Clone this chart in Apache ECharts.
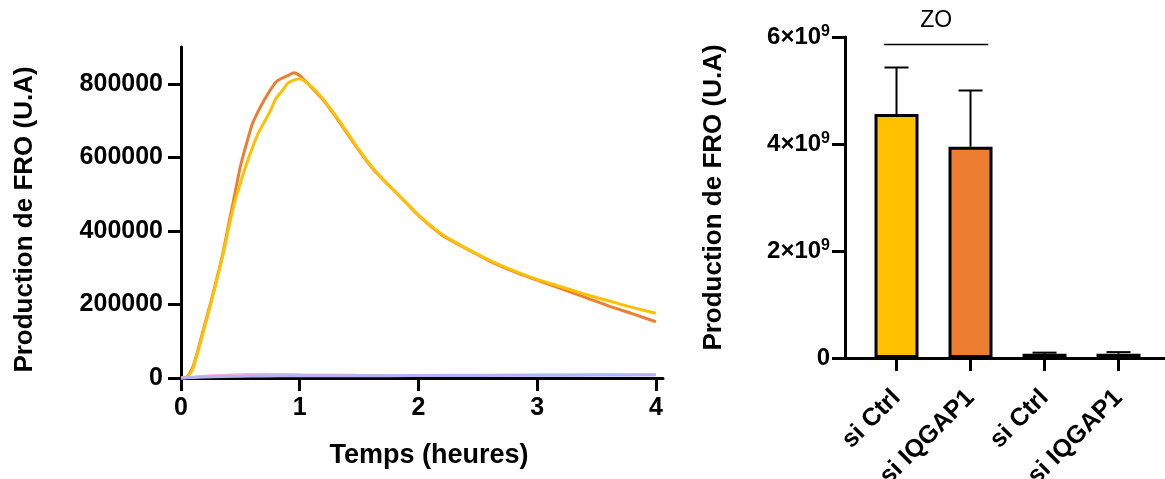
<!DOCTYPE html>
<html>
<head>
<meta charset="utf-8">
<script src="https://cdn.jsdelivr.net/npm/echarts@6/dist/echarts.min.js"></script>
<style>html,body{margin:0;padding:0;background:#fff;}#c{width:1165px;height:479px;}</style>
</head>
<body>
<div id="c"></div>
<script>
// ---- Left panel: kinetics ----
const timeHours = [0, 0.05, 0.1, 0.15, 0.2, 0.25, 0.3, 0.35, 0.4, 0.45, 0.5, 0.55, 0.6, 0.65, 0.7, 0.75, 0.8, 0.85, 0.9, 0.95, 1.0, 1.1, 1.2, 1.3, 1.4, 1.5, 1.6, 1.7, 1.8, 1.9, 2.0, 2.2, 2.4, 2.6, 2.8, 3.0, 3.2, 3.4, 3.6, 3.8, 4.0];
const curveOrange = [0, 3000, 30000, 85000, 145000, 205000, 268000, 335000, 415000, 495000, 575000, 635000, 690000, 725000, 755000, 782000, 805000, 815000, 822000, 830000, 822000, 790000, 755000, 712000, 665000, 618000, 575000, 540000, 508000, 475000, 442000, 388000, 352000, 318000, 290000, 266000, 243000, 220000, 196000, 175000, 153000];
const curveYellow = [0, 2000, 25000, 80000, 140000, 200000, 265000, 330000, 405000, 475000, 530000, 580000, 625000, 665000, 695000, 725000, 760000, 780000, 802000, 810000, 814000, 792000, 757000, 715000, 668000, 620000, 577000, 540000, 508000, 476000, 443000, 390000, 353000, 320000, 292000, 268000, 248000, 228000, 210000, 192000, 176000];
const faintTimes = [0, 0.1, 0.2, 0.5, 0.7, 1.0, 1.5, 2.0, 2.5, 3.0, 3.5, 4.0];
const curvePink = [0, 2000, 5000, 9000, 10000, 9000, 7500, 7000, 7500, 8000, 8500, 9000];
const curveLavender = [0, 1500, 3000, 5000, 5500, 6000, 6000, 6500, 7000, 7500, 8000, 8500];
const xTicks = [0, 1, 2, 3, 4];
const yTicksLeft = [0, 200000, 400000, 600000, 800000];

// ---- Right panel: bars ----
const barCategories = ['si Ctrl', 'si IQGAP1', 'si Ctrl', 'si IQGAP1'];
const barMeans = [4.56e9, 3.95e9, 0.08e9, 0.08e9];
const barErrors = [0.87e9, 1.05e9, 0.02e9, 0.03e9];
const yTicksRight = [0, 2e9, 4e9, 6e9];
const zoBracket = { from: -0.17, to: 1.24, level: 5.87e9, label: 'ZO' };

const FONT = '"Liberation Sans", Arial, sans-serif';
const barPalette = ['#FFC000', '#ED7D31'];

const pair = (xs, ys) => xs.map((x, i) => [x, ys[i]]);

const chart = echarts.init(document.getElementById('c'), null, { renderer: 'canvas' });

const axisLineStyle = { show: true, onZero: false, lineStyle: { color: '#000', width: 3 } };
const tickStyle = (vals) => ({ show: true, length: 13, customValues: vals, lineStyle: { color: '#000', width: 3 } });

chart.setOption({
  animation: false,
  backgroundColor: '#fff',
  grid: [
    { left: 181, right: 502, top: 47, bottom: 101, containLabel: false, outerBoundsMode: 'none' },
    { left: 845, right: 0, top: 37, bottom: 121, containLabel: false, outerBoundsMode: 'none' }
  ],
  xAxis: [
    {
      gridIndex: 0, type: 'value', min: 0, max: 4.06,
      axisLine: axisLineStyle,
      axisTick: tickStyle(xTicks),
      splitLine: { show: false },
      axisLabel: { customValues: xTicks, margin: 18, color: '#000', fontFamily: FONT, fontWeight: 'bold', fontSize: 25,
        formatter: (v) => String(v) },
      name: 'Temps (heures)', nameLocation: 'middle', nameGap: 64,
      nameTextStyle: { color: '#000', fontFamily: FONT, fontWeight: 'bold', fontSize: 27, padding: [0, 0, 0, 14] }
    },
    {
      gridIndex: 1, type: 'value', min: -0.696, max: 3.628,
      axisLine: axisLineStyle,
      axisTick: tickStyle([0, 1, 2, 3]),
      splitLine: { show: false },
      axisLabel: {
        customValues: [0, 1, 2, 3], margin: 36, rotate: 45,
        formatter: (v) => barCategories[Math.round(v)] || '',
        color: '#000', fontFamily: FONT, fontWeight: 'bold', fontSize: 25
      }
    }
  ],
  yAxis: [
    {
      gridIndex: 0, type: 'value', min: 0, max: 900000,
      axisLine: axisLineStyle,
      axisTick: tickStyle(yTicksLeft),
      splitLine: { show: false },
      axisLabel: { customValues: yTicksLeft, margin: 18, color: '#000', fontFamily: FONT, fontWeight: 'bold', fontSize: 25,
        formatter: (v) => String(v) },
      name: 'Production de FRO (U.A)', nameLocation: 'middle', nameGap: 143,
      nameTextStyle: { color: '#000', fontFamily: FONT, fontWeight: 'bold', fontSize: 26, padding: [0, 14, 0, 0] }
    },
    {
      gridIndex: 1, type: 'value', min: 0, max: 6e9,
      axisLine: axisLineStyle,
      axisTick: tickStyle(yTicksRight),
      splitLine: { show: false },
      axisLabel: {
        customValues: yTicksRight, margin: 15,
        formatter: (v) => v === 0 ? '{b|0}' : '{b|' + (v / 1e9) + '×10}{s|9}',
        rich: {
          b: { color: '#000', fontFamily: FONT, fontWeight: 'bold', fontSize: 24, lineHeight: 27 },
          s: { color: '#000', fontFamily: FONT, fontWeight: 'bold', fontSize: 16, lineHeight: 16, verticalAlign: 'top' }
        }
      },
      name: 'Production de FRO (U.A)', nameLocation: 'middle', nameGap: 118,
      nameTextStyle: { color: '#000', fontFamily: FONT, fontWeight: 'bold', fontSize: 26 }
    }
  ],
  series: [
    { type: 'line', xAxisIndex: 0, yAxisIndex: 0, data: pair(timeHours, curveOrange), showSymbol: false, smooth: 0.2,
      lineStyle: { color: '#ED7D31', width: 3 }, itemStyle: { color: '#ED7D31' } },
    { type: 'line', xAxisIndex: 0, yAxisIndex: 0, data: pair(timeHours, curveYellow), showSymbol: false, smooth: 0.2,
      lineStyle: { color: '#FFC000', width: 3 }, itemStyle: { color: '#FFC000' } },
    { type: 'line', xAxisIndex: 0, yAxisIndex: 0, data: pair(faintTimes, curvePink), showSymbol: false, smooth: 0.3,
      lineStyle: { color: '#F2B3D3', width: 3 } },
    { type: 'line', xAxisIndex: 0, yAxisIndex: 0, data: pair(faintTimes, curveLavender), showSymbol: false, smooth: 0.3,
      lineStyle: { color: '#B4B2F2', width: 3 } },
    {
      type: 'bar', xAxisIndex: 1, yAxisIndex: 1, barWidth: 44, clip: false,
      data: barMeans.map((m, i) => [i, m]),
      itemStyle: { color: (p) => barPalette[p.dataIndex % 2], borderColor: '#000', borderWidth: 3 },
      markLine: {
        silent: true, symbol: 'none', animation: false,
        lineStyle: { color: '#000', width: 1.3, type: 'solid' },
        label: { show: true, position: 'middle', formatter: zoBracket.label, distance: 12,
          color: '#000', fontFamily: FONT, fontSize: 23, fontWeight: 'normal' },
        data: [[{ coord: [zoBracket.from, zoBracket.level] }, { coord: [zoBracket.to, zoBracket.level] }]]
      }
    },
    {
      type: 'custom', xAxisIndex: 1, yAxisIndex: 1, z: 5, clip: false,
      data: barMeans.map((m, i) => [i, m, m + barErrors[i]]),
      renderItem: (params, api) => {
        const x = api.value(0);
        const p1 = api.coord([x, api.value(1)]);
        const p2 = api.coord([x, api.value(2)]);
        const st = { stroke: '#000', lineWidth: 2 };
        return { type: 'group', children: [
          { type: 'line', shape: { x1: p1[0], y1: p1[1], x2: p2[0], y2: p2[1] }, style: st },
          { type: 'line', shape: { x1: p2[0] - 12, y1: p2[1], x2: p2[0] + 12, y2: p2[1] }, style: st }
        ] };
      }
    }
  ]
});
</script>
</body>
</html>
